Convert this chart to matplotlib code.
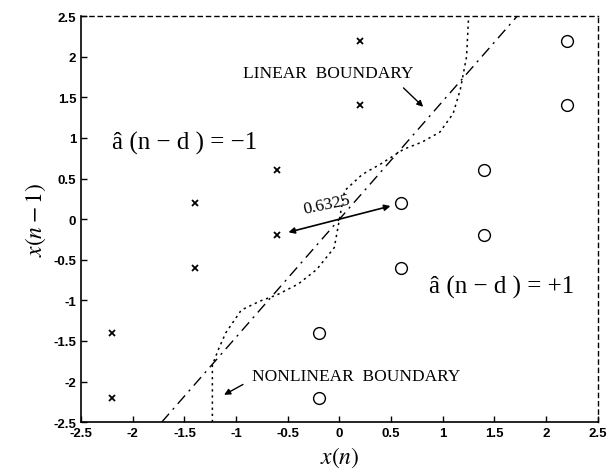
import matplotlib
matplotlib.use("Agg")
import matplotlib.pyplot as plt

plt.rcParams["mathtext.fontset"] = "stix"

# Data
neg_x = [-2.2, -2.2, -1.4, -1.4, -0.6, -0.6, 0.2, 0.2]
neg_y = [-2.2, -1.4, -0.6, 0.2, -0.2, 0.6, 1.4, 2.2]
pos_x = [-0.2, -0.2, 0.6, 0.6, 1.4, 1.4, 2.2, 2.2]
pos_y = [-2.2, -1.4, -0.6, 0.2, -0.2, 0.6, 1.4, 2.2]

lin_x = [-1.72, 1.72]
lin_y = [-2.5, 2.5]

nl_x = [-1.23, -1.23, -1.17, -1.1, -0.95, -0.77, -0.6, -0.4, -0.22, -0.05, 0.0,
        0.05, 0.22, 0.4, 0.62, 0.8, 0.97, 1.1, 1.17, 1.23, 1.25]
nl_y = [-2.5, -1.8, -1.6, -1.4, -1.12, -1.01, -0.93, -0.8, -0.62, -0.35, 0.0,
        0.35, 0.55, 0.68, 0.86, 0.95, 1.07, 1.3, 1.6, 2.0, 2.5]

ticks = [-2.5, -2, -1.5, -1, -0.5, 0, 0.5, 1, 1.5, 2, 2.5]
tick_labels = ["-2.5", "-2", "-1.5", "-1", "-0.5", "0", "0.5", "1", "1.5", "2", "2.5"]

fig = plt.figure(figsize=(6.10, 4.77), dpi=100)
ax = fig.add_axes([0.133, 0.113, 0.847, 0.851])

ax.plot(neg_x, neg_y, linestyle="none", marker="x", color="black",
        markersize=4, markeredgewidth=1.3)
ax.plot(pos_x, pos_y, linestyle="none", marker="o", markerfacecolor="white",
        markeredgecolor="black", markersize=8.5, markeredgewidth=1.0)

ax.plot(lin_x, lin_y, color="black", linewidth=1.0, linestyle=(0, (8, 4, 1.5, 4)))
ax.plot(nl_x, nl_y, color="black", linewidth=1.1, linestyle=(0, (1.5, 2.5)))

ax.set_xlim(-2.5, 2.5)
ax.set_ylim(-2.5, 2.5)
ax.set_xticks(ticks)
ax.set_xticklabels(tick_labels)
ax.set_yticks(ticks)
ax.set_yticklabels(tick_labels)
ax.tick_params(direction="in", length=4, width=1, labelsize=9.5)
for lab in ax.get_xticklabels() + ax.get_yticklabels():
    lab.set_family("Liberation Sans")
    lab.set_fontweight("bold")

for s in ["left", "bottom"]:
    ax.spines[s].set_linewidth(1.2)
for s in ["top", "right"]:
    ax.spines[s].set_linestyle((0, (3, 3)))
    ax.spines[s].set_linewidth(1.0)

ax.set_xlabel(r"$x(n)$", fontsize=17)
ax.set_ylabel(r"$x(n-1)$", fontsize=17)

serif = "Liberation Serif"
ax.text(-2.2, 0.94, "â (n − d ) = −1", fontsize=18, family=serif, va="center", ha="left")
ax.text(0.87, -0.83, "â (n − d ) = +1", fontsize=18, family=serif, va="center", ha="left")

ax.text(-0.93, 1.80, "LINEAR  BOUNDARY", fontsize=12.5, family=serif, va="center", ha="left")
ax.annotate("", xy=(0.83, 1.36), xytext=(0.6, 1.64),
            arrowprops=dict(arrowstyle="-|>", color="black", lw=1.0, mutation_scale=9))

ax.text(-0.85, -1.93, "NONLINEAR  BOUNDARY", fontsize=12.5, family=serif, va="center", ha="left")
ax.annotate("", xy=(-1.14, -2.18), xytext=(-0.91, -2.02),
            arrowprops=dict(arrowstyle="-|>", color="black", lw=1.0, mutation_scale=9))

ax.annotate("", xy=(-0.52, -0.17), xytext=(0.52, 0.17),
            arrowprops=dict(arrowstyle="<|-|>", color="black", lw=1.2, mutation_scale=9))
ax.text(-0.12, 0.19, "0.6325", fontsize=12.5, family=serif, va="center", ha="center",
        rotation=12)

fig.savefig("out.png", dpi=100)
